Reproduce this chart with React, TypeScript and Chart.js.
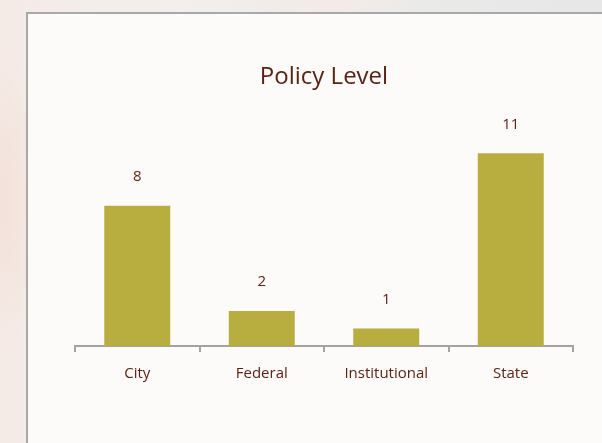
import React, { useEffect, useRef } from "react";
import { Chart, registerables } from "chart.js";

Chart.register(...registerables);

const categories = ["City", "Federal", "Institutional", "State"];
const values = [8, 2, 1, 11];
const chartTitle = "Policy Level";

const FONT = "'Open Sans', 'Liberation Sans', sans-serif";
const TEXT = "#5b2313";

const valueLabels = {
  id: "valueLabels",
  afterDatasetsDraw(chart: any) {
    const ctx = chart.ctx;
    const meta = chart.getDatasetMeta(0);
    ctx.save();
    ctx.font = `15px ${FONT}`;
    ctx.fillStyle = TEXT;
    ctx.textAlign = "center";
    ctx.textBaseline = "middle";
    meta.data.forEach((bar: any, i: number) => {
      ctx.fillText(String(values[i]), bar.x, bar.y - 29);
    });
    ctx.restore();
  },
};

export default function App() {
  const ref = useRef<HTMLCanvasElement>(null);
  useEffect(() => {
    const chart = new Chart(ref.current!, {
      type: "bar",
      data: {
        labels: categories,
        datasets: [
          {
            data: values,
            backgroundColor: "#b8ae3f",
            categoryPercentage: 1,
            barPercentage: 0.53,
          },
        ],
      },
      options: {
        animation: false,
        responsive: false,
        layout: { padding: { left: 75, right: 29, top: 0, bottom: 47 } },
        plugins: {
          legend: { display: false },
          tooltip: { enabled: false },
          title: {
            display: true,
            text: chartTitle,
            color: TEXT,
            font: { family: FONT, size: 24, weight: "normal" },
            padding: { top: 63, bottom: 44 },
          },
        },
        scales: {
          x: {
            offset: true,
            grid: {
              offset: true,
              drawOnChartArea: false,
              drawTicks: true,
              tickLength: 6,
              color: "#a3a3a3",
              lineWidth: 2,
            },
            border: { display: true, color: "#a3a3a3", width: 2 },
            ticks: {
              color: TEXT,
              font: { family: FONT, size: 15 },
              padding: 13,
            },
          },
          y: {
            display: false,
            min: 0,
            max: 12,
          },
        },
      },
      plugins: [valueLabels],
    });
    return () => chart.destroy();
  }, []);

  return (
    <div
      style={{
        position: "fixed",
        left: 0,
        top: 0,
        width: 602,
        height: 443,
        overflow: "hidden",
        background:
          "linear-gradient(90deg, #f5ebe6 0%, #f4efec 30%, #ecebea 55%, #e7e7e7 100%)",
      }}
    >
      <div
        style={{
          position: "absolute",
          left: 0,
          top: 0,
          width: 602,
          height: 443,
          background:
            "radial-gradient(ellipse 40px 160px at 5px 200px, rgba(240,215,205,0.5), rgba(240,215,205,0) 100%), radial-gradient(ellipse 90px 40px at 330px 0px, rgba(248,235,228,0.8), rgba(248,235,228,0) 100%)",
        }}
      />
      <div
        style={{
          position: "absolute",
          left: 26,
          top: 12,
          width: 620,
          height: 480,
          boxSizing: "border-box",
          border: "2px solid #a8a8a8",
          background: "#fcfbfa",
        }}
      />
      <canvas
        ref={ref}
        width={602}
        height={443}
        style={{ position: "absolute", left: 0, top: 0, width: 602, height: 443 }}
      />
    </div>
  );
}
